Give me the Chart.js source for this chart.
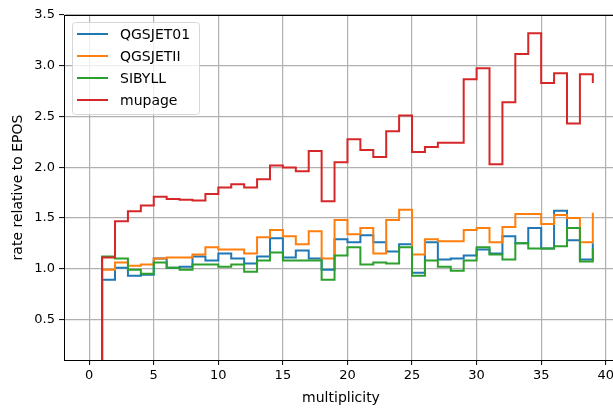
<!DOCTYPE html>
<html>
<head>
<meta charset="utf-8">
<script src="https://cdn.jsdelivr.net/npm/chart.js@4"></script>
<style>
  html, body { margin: 0; padding: 0; background: #fff; overflow: hidden; }
  #wrap { width: 618px; height: 411px; }
</style>
</head>
<body>
<div id="wrap"><canvas id="c"></canvas></div>
<script>
// multiplicity bins 0..39, ratio held until the next bin (step "post")
const multiplicity = Array.from({ length: 40 }, (_, i) => i);

const qgsjet01 = [0, 0.89, 1.01, 0.93, 0.94, 1.10, 1.01, 1.02, 1.12, 1.08,
  1.15, 1.10, 1.05, 1.12, 1.30, 1.11, 1.18, 1.10, 0.99, 1.29,
  1.26, 1.33, 1.26, 1.17, 1.24, 0.96, 1.26, 1.09, 1.10, 1.13,
  1.19, 1.15, 1.32, 1.25, 1.40, 1.20, 1.57, 1.28, 1.09, 1.25];

const qgsjetII = [0, 0.99, 1.06, 1.03, 1.04, 1.10, 1.11, 1.11, 1.14, 1.21,
  1.19, 1.19, 1.15, 1.31, 1.38, 1.32, 1.24, 1.37, 1.10, 1.48,
  1.34, 1.40, 1.15, 1.48, 1.58, 1.14, 1.29, 1.27, 1.27, 1.38,
  1.40, 1.26, 1.41, 1.54, 1.54, 1.44, 1.53, 1.50, 1.26, 1.55];

const sibyll = [0, 1.12, 1.10, 0.99, 0.95, 1.06, 1.01, 0.99, 1.04, 1.04,
  1.02, 1.04, 0.97, 1.08, 1.16, 1.08, 1.08, 1.08, 0.89, 1.13,
  1.21, 1.04, 1.06, 1.05, 1.21, 0.93, 1.08, 1.02, 0.98, 1.08,
  1.21, 1.14, 1.09, 1.25, 1.20, 1.20, 1.22, 1.40, 1.07, 1.20];

const mupage = [0, 1.11, 1.467, 1.566, 1.622, 1.71, 1.687, 1.68, 1.671, 1.736,
  1.80, 1.832, 1.80, 1.882, 2.017, 1.997, 1.96, 2.16, 1.664, 2.05,
  2.275, 2.17, 2.10, 2.355, 2.51, 2.15, 2.20, 2.24, 2.24, 2.866,
  2.974, 2.03, 2.64, 3.115, 3.32, 2.83, 2.925, 2.43, 2.915, 2.83];

const xTicks = [0, 5, 10, 15, 20, 25, 30, 35, 40];
const yTicks = [0.5, 1.0, 1.5, 2.0, 2.5, 3.0, 3.5];

const FONT = "'DejaVu Sans', sans-serif";

// later series are drawn on top (lower order = drawn last)
function series(label, values, color, order) {
  return {
    label,
    data: multiplicity.map((x, i) => ({ x, y: values[i] })),
    borderColor: color,
    backgroundColor: color,
    borderWidth: 2,
    pointRadius: 0,
    stepped: "before",
    fill: false,
    order,
  };
}

// legend box inside the axes, upper left
const innerLegend = {
  id: "innerLegend",
  afterDraw(chart) {
    const { ctx, chartArea } = chart;
    const x0 = chartArea.left + 8, y0 = chartArea.top + 7;
    const w = 127, h = 92;
    ctx.save();
    ctx.fillStyle = "rgba(255,255,255,0.8)";
    ctx.strokeStyle = "#d6d6d6";
    ctx.lineWidth = 1;
    ctx.beginPath();
    ctx.roundRect(x0 + 0.5, y0 + 0.5, w, h, 3);
    ctx.fill();
    ctx.stroke();
    ctx.font = "14px " + FONT;
    ctx.textBaseline = "middle";
    chart.data.datasets.forEach((ds, i) => {
      const y = y0 + 12 + i * 22;
      ctx.strokeStyle = ds.borderColor;
      ctx.lineWidth = 2;
      ctx.beginPath();
      ctx.moveTo(x0 + 5, y);
      ctx.lineTo(x0 + 36, y);
      ctx.stroke();
      ctx.fillStyle = "#000";
      ctx.fillText(ds.label, x0 + 48, y + 1);
    });
    ctx.restore();
  },
};

// full black frame around the axes, plus the rotated y-axis label
const frame = {
  id: "frame",
  afterDatasetsDraw(chart) {
    const { ctx, chartArea: a } = chart;
    ctx.save();
    ctx.strokeStyle = "#000";
    ctx.lineWidth = 1;
    ctx.strokeRect(Math.round(a.left) + 0.5, Math.round(a.top) + 0.5,
      Math.round(a.right - a.left), Math.round(a.bottom - a.top));
    ctx.translate(18, (a.top + a.bottom) / 2);
    ctx.rotate(-Math.PI / 2);
    ctx.fillStyle = "#000";
    ctx.font = "14px " + FONT;
    ctx.textAlign = "center";
    ctx.textBaseline = "middle";
    ctx.fillText("rate relative to EPOS", 0, 0);
    ctx.restore();
  },
};

new Chart(document.getElementById("c"), {
  type: "line",
  data: {
    datasets: [
      series("QGSJET01", qgsjet01, "#1f77b4", 3),
      series("QGSJETII", qgsjetII, "#ff7f0e", 2),
      series("SIBYLL", sibyll, "#2ca02c", 1),
      series("mupage", mupage, "#d62728", 0),
    ],
  },
  options: {
    responsive: true,
    maintainAspectRatio: false,
    animation: false,
    layout: { padding: { top: 15, right: 0, left: 0, bottom: 0 } },
    plugins: {
      legend: { display: false },
      tooltip: { enabled: false },
    },
    scales: {
      x: {
        type: "linear",
        min: -1.95,
        max: 40.95,
        afterBuildTicks: (s) => { s.ticks = xTicks.map((v) => ({ value: v })); },
        afterFit: (s) => { s.height = 51; },
        ticks: { color: "#000", font: { family: FONT, size: 13 }, padding: 3, maxRotation: 0 },
        grid: { color: "#b0b0b0", lineWidth: 1.2, tickColor: "#000", tickLength: 5, tickWidth: 1 },
        border: { color: "#000", width: 1 },
        title: { display: true, text: "multiplicity", color: "#000", font: { family: FONT, size: 14 }, padding: { top: 2 } },
      },
      y: {
        min: 0.1,
        max: 3.5,
        afterBuildTicks: (s) => { s.ticks = yTicks.map((v) => ({ value: v })); },
        afterFit: (s) => { s.width = 64; },
        ticks: { color: "#000", font: { family: FONT, size: 13 }, padding: 4, callback: (v) => v.toFixed(1) },
        grid: { color: "#b0b0b0", lineWidth: 1.2, tickColor: "#000", tickLength: 5, tickWidth: 1 },
        border: { color: "#000", width: 1 },
      },
    },
  },
  plugins: [innerLegend, frame],
});
</script>
</body>
</html>
